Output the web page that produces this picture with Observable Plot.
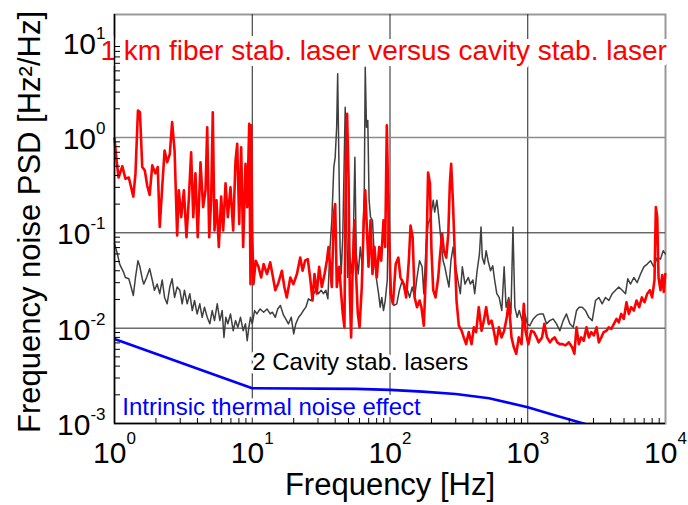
<!DOCTYPE html>
<html>
<head>
<meta charset="utf-8">
<script src="https://cdn.jsdelivr.net/npm/d3@7"></script>
<script src="https://cdn.jsdelivr.net/npm/@observablehq/plot@0.6"></script>
<style>
  html, body { margin: 0; padding: 0; background: #fff; }
  #chart svg { display: block; }
</style>
</head>
<body>
<div id="chart"></div>
<script>
// ---- Data ----
// Red: 1 km fiber stabilised laser versus cavity stabilised laser
const redFreq = [
  1.00,1.03,1.07,1.14,1.20,1.27,1.37,1.42,1.48,1.53,
  1.59,1.66,1.73,1.80,1.88,1.98,2.06,2.13,2.22,2.31,
  2.41,2.52,2.62,2.73,2.85,2.93,3.05,3.19,3.33,3.46,
  3.60,3.73,3.87,4.02,4.21,4.40,4.58,4.71,4.87,5.03,
  5.17,5.32,5.50,5.72,5.95,6.15,6.40,6.65,6.95,7.27,
  7.56,7.78,8.04,8.31,8.59,8.93,9.19,9.51,9.71,9.82,
  10.0,10.2,10.6,11.1,11.6,12.1,12.8,13.5,14.0,14.7,
  15.5,16.4,17.1,17.8,18.9,19.9,21.1,22.3,23.2,24.2,
  25.3,26.3,27.4,28.3,29.4,30.6,32.0,33.5,34.8,35.8,
  36.8,37.8,39.1,40.0,41.1,42.8,44.2,45.4,46.7,47.8,
  48.8,50.0,51.1,52.2,53.4,55.2,56.4,58.4,60.1,62.4,
  64.5,66.1,67.9,69.8,72.2,74.6,77.2,80.2,83.5,86.3,
  89.7,92.3,94.8,97.5,100,101,105,110,115,119,
  126,131,137,141,146,151,157,164,169,176,
  183,189,195,200,206,214,224,230,239,246,
  256,265,272,278,286,296,304,316,331,343,
  357,373,391,406,422,441,462,480,499,521,
  546,567,590,617,645,674,705,728,762,792,
  825,861,901,936,963,1010,1060,1110,1160,1200,
  1270,1320,1380,1450,1510,1570,1640,1710,1790,1880,
  1990,2100,2180,2260,2350,2440,2550,2670,2780,2890,
  3020,3160,3280,3420,3560,3730,3880,4040,4220,4410,
  4580,4770,4980,5210,5420,5640,5890,6160,6450,6740,
  7040,7370,7700,8000,8320,8510,8710,8900,9200,9460,
  9720,9960
];
const redPsd = [
  0.98,0.62,0.38,0.50,0.37,0.38,0.24,0.42,1.92,1.84,
  0.49,0.45,0.31,0.25,0.51,0.42,0.49,0.115,0.30,0.73,
  0.55,0.67,1.45,0.73,0.094,0.28,0.146,0.28,0.090,0.22,
  0.70,0.146,0.42,0.090,0.55,0.186,0.28,1.28,0.090,0.22,
  1.84,0.106,0.22,0.071,0.24,0.106,0.33,0.146,0.30,0.106,
  0.57,0.86,0.124,0.79,0.071,0.53,0.186,1.39,0.029,1.34,
  0.098,0.029,0.051,0.044,0.034,0.047,0.037,0.049,0.037,0.025,
  0.030,0.040,0.027,0.021,0.034,0.029,0.037,0.055,0.040,0.051,
  0.053,0.034,0.0195,0.037,0.023,0.044,0.027,0.037,0.051,0.071,
  0.044,0.027,0.158,0.20,0.027,0.044,0.023,0.0141,0.0102,0.57,
  1.77,0.38,0.023,0.0080,0.034,0.135,0.044,0.0141,0.0102,0.027,
  0.135,0.28,0.115,0.044,0.135,0.037,0.071,0.034,0.071,0.051,
  0.135,0.071,1.34,0.171,0.044,0.023,0.018,0.047,0.055,0.034,
  0.029,0.021,0.051,0.119,0.090,0.021,0.0166,0.0195,0.0166,0.0106,
  0.044,0.43,0.33,0.065,0.025,0.021,0.034,0.055,0.098,0.065,
  0.055,0.098,0.33,0.53,0.22,0.055,0.0195,0.0106,0.0094,0.0080,
  0.0068,0.0091,0.0068,0.0102,0.0091,0.0166,0.0094,0.0120,0.0166,0.0111,
  0.0120,0.0094,0.0068,0.0102,0.0080,0.0094,0.0130,0.0195,0.0080,0.0063,
  0.0054,0.0080,0.0068,0.018,0.0094,0.0068,0.0094,0.0091,0.0080,0.0071,
  0.0080,0.0111,0.0080,0.0071,0.0077,0.0080,0.0071,0.0068,0.0068,0.0066,
  0.0071,0.0063,0.0054,0.0102,0.0068,0.0080,0.0074,0.0102,0.0080,0.0091,
  0.0084,0.0102,0.0071,0.0080,0.0091,0.0094,0.0102,0.0098,0.0111,0.0125,
  0.0115,0.0141,0.0125,0.0187,0.0141,0.0166,0.0153,0.0195,0.0166,0.021,
  0.0187,0.023,0.025,0.021,0.032,0.186,0.146,0.034,0.025,0.036,
  0.024,0.037
];

// Dark grey: 2 cavity stabilised lasers
const grayFreq = [
  1.00,1.05,1.09,1.16,1.20,1.27,1.32,1.37,1.42,1.48,
  1.53,1.59,1.63,1.71,1.80,1.88,1.95,2.04,2.13,2.22,
  2.31,2.41,2.52,2.62,2.73,2.85,2.98,3.10,3.22,3.37,
  3.52,3.67,3.81,3.98,4.16,4.33,4.50,4.71,4.92,5.12,
  5.32,5.57,5.82,6.05,6.23,6.43,6.65,6.95,7.27,7.56,
  7.86,8.22,8.59,8.93,9.19,9.45,9.71,10.0,10.4,10.8,
  11.4,12.1,12.8,13.5,14.0,14.7,15.3,16.0,16.9,17.5,
  18.3,19.2,20.0,20.7,21.7,22.7,23.5,24.5,25.6,26.7,
  27.9,29.0,30.3,31.6,32.9,34.2,35.4,36.6,37.8,39.1,
  40.0,41.0,41.7,42.5,43.4,44.2,45.4,47.3,48.3,49.3,
  50.6,52.2,53.9,55.6,56.9,58.8,60.9,63.0,65.1,66.1,
  67.5,69.0,70.5,72.2,74.6,77.2,79.9,82.6,84.9,87.2,
  89.7,92.3,95.6,97.5,100,103,107,112,117,123,
  128,134,139,145,151,157,164,171,176,183,
  189,197,206,211,219,226,232,243,250,259,
  268,277,287,298,311,324,335,350,370,383,
  400,412,429,446,458,468,484,499,515,537,
  557,575,596,620,648,674,696,728,755,781,
  806,838,868,910,956,993,1035,1096,1160,1225,
  1295,1368,1445,1530,1617,1710,1808,1910,2020,2137,
  2260,2362,2483,2624,2774,2937,3104,3280,3470,3667,
  3880,4103,4336,4581,4850,5127,5325,5570,5890,6223,
  6590,6964,7370,7780,8225,8710,9200,9620,9960
];
const grayPsd = [
  0.077,0.060,0.047,0.039,0.034,0.033,0.027,0.022,0.034,0.051,
  0.044,0.033,0.029,0.034,0.042,0.032,0.025,0.029,0.023,0.032,
  0.021,0.018,0.027,0.033,0.021,0.027,0.025,0.018,0.025,0.018,
  0.023,0.0153,0.0195,0.0141,0.018,0.0130,0.0166,0.0130,0.0111,0.0153,
  0.0120,0.018,0.0120,0.0153,0.0080,0.0130,0.0111,0.0141,0.0094,0.0120,
  0.0102,0.0130,0.0094,0.0111,0.0074,0.0102,0.0130,0.0111,0.0153,0.0141,
  0.0159,0.0147,0.0159,0.0141,0.0147,0.0130,0.0159,0.0173,0.0136,0.0125,
  0.0111,0.0130,0.0087,0.0111,0.0130,0.0141,0.0153,0.0166,0.0203,0.0195,
  0.023,0.025,0.023,0.025,0.023,0.025,0.0203,0.065,0.135,0.49,
  0.62,1.28,4.66,0.67,0.071,0.037,0.090,2.08,0.171,0.034,
  0.071,0.037,0.060,0.62,0.060,0.037,0.071,0.044,0.30,5.47,
  1.28,1.51,0.22,0.146,0.135,0.051,0.032,0.023,0.0166,0.021,
  0.0153,0.0195,0.032,0.26,0.044,0.0195,0.0173,0.018,0.025,0.032,
  0.025,0.025,0.021,0.027,0.021,0.034,0.051,0.044,0.023,0.077,
  0.124,0.146,0.22,0.165,0.22,0.146,0.098,0.051,0.044,0.034,
  0.027,0.051,0.071,0.047,0.032,0.023,0.044,0.029,0.034,0.029,
  0.032,0.023,0.040,0.060,0.115,0.055,0.047,0.065,0.051,0.040,
  0.045,0.032,0.023,0.021,0.0153,0.044,0.0166,0.021,0.0141,0.115,
  0.0166,0.0130,0.0153,0.0120,0.0141,0.0111,0.0106,0.0125,0.0136,0.0141,
  0.0141,0.0111,0.0120,0.0125,0.0111,0.0094,0.0120,0.0141,0.0111,0.0102,
  0.0153,0.0166,0.0166,0.0153,0.0130,0.0120,0.0195,0.021,0.018,0.021,
  0.0195,0.023,0.025,0.027,0.025,0.023,0.033,0.029,0.034,0.030,
  0.037,0.044,0.047,0.051,0.044,0.055,0.053,0.065,0.060
];

// Blue: intrinsic thermal noise effect
const blueFreq = [1, 10, 56.6, 100, 172, 300, 524, 1000, 1590, 2614];
const bluePsd  = [0.0077, 0.00234, 0.00231, 0.00225, 0.00216, 0.00204, 0.00184, 0.00148, 0.00121, 0.00099];

// Axis ticks
const xTicks = [1, 10, 100, 1000, 10000];
const xTickExp = ["0", "1", "2", "3", "4"];
const yTicks = [0.001, 0.01, 0.1, 1, 10];
const yTickExp = ["-3", "-2", "-1", "0", "1"];
const xMinor = [2,3,4,5,6,7,8,9, 20,30,40,50,60,70,80,90, 200,300,400,500,600,700,800,900, 2000,3000,4000,5000,6000,7000,8000,9000];
const yMinor = [0.002,0.003,0.004,0.005,0.006,0.007,0.008,0.009, 0.02,0.03,0.04,0.05,0.06,0.07,0.08,0.09, 0.2,0.3,0.4,0.5,0.6,0.7,0.8,0.9, 2,3,4,5,6,7,8,9];

// Text annotations
const annText  = ["1 km fiber stab. laser versus cavity stab. laser", "2 Cavity stab. lasers", "Intrinsic thermal noise effect"];
const annFreq  = [1, 10, 1.14];
const annPsd   = [7.98, 0.0044, 0.00149];
const annColor = ["#ff0000", "#000000", "#0000ff"];

// ---- Build tables ----
const red = redFreq.map((f, i) => ({f, p: redPsd[i]}));
const gray = grayFreq.map((f, i) => ({f, p: grayPsd[i]}));
const blue = blueFreq.map((f, i) => ({f, p: bluePsd[i]}));
const titleAnn = [{t: annText[0], f: annFreq[0], p: annPsd[0], c: annColor[0]}];
const otherAnn = [1, 2].map(i => ({t: annText[i], f: annFreq[i], p: annPsd[i], c: annColor[i]}));

const font = "'Liberation Sans', Arial, Helvetica, sans-serif";

const plot = Plot.plot({
  width: 688,
  height: 505,
  marginLeft: 114,
  marginRight: 23,
  marginTop: 14,
  marginBottom: 82,
  style: {fontFamily: font, background: "#fff", color: "#000"},
  x: {type: "log", domain: [1, 10000]},
  y: {type: "log", domain: [0.001, 19.5]},
  marks: [
    Plot.frame({stroke: "#999", strokeWidth: 2}),
    Plot.gridX([10, 100, 1000], {stroke: "#222", strokeOpacity: 1, strokeWidth: 1}),
    Plot.gridY([0.01, 0.1], {stroke: "#222", strokeOpacity: 1, strokeWidth: 1}),
    Plot.gridY([1], {stroke: "#8c8c8c", strokeOpacity: 1, strokeWidth: 1.5}),
    Plot.line(gray, {x: "f", y: "p", stroke: "#3f3f3f", strokeWidth: 1.5, strokeLinejoin: "round"}),
    Plot.line(red, {x: "f", y: "p", stroke: "#ff0000", strokeWidth: 2.6, strokeLinejoin: "round"}),
    Plot.text(titleAnn, {x: "f", y: "p", text: "t", fill: "c", textAnchor: "start", lineAnchor: "middle", dx: -14,
      fontSize: 28, stroke: "white", strokeWidth: 12}),
    Plot.text(otherAnn, {x: "f", y: "p", text: "t", fill: "c", textAnchor: "start", lineAnchor: "middle",
      fontSize: 24, stroke: "white", strokeWidth: 7}),
    Plot.line(blue, {x: "f", y: "p", stroke: "#0000ff", strokeWidth: 2.6, clip: true}),
    Plot.ruleX([1], {stroke: "#000", strokeWidth: 1.5}),
    Plot.ruleY([0.001], {stroke: "#000", strokeWidth: 1.5}),
    Plot.axisY(yMinor, {anchor: "left", tickSize: -6, tickFormat: () => "", label: null, stroke: "#000"}),
    Plot.axisX(xMinor, {anchor: "bottom", tickSize: -5, tickFormat: () => "", label: null, stroke: "#000"}),
    Plot.axisY(yTicks, {anchor: "left", tickSize: 0, tickPadding: 9, fontSize: 30, dy: 2,
      tickFormat: d => "10^" + yTickExp[yTicks.indexOf(d)], label: null}),
    Plot.axisX(xTicks, {anchor: "bottom", tickSize: 0, tickPadding: 18, fontSize: 30,
      tickFormat: d => "10^" + xTickExp[xTicks.indexOf(d)], label: null}),
    Plot.text(["Frequency [Hz]"], {frameAnchor: "bottom", lineAnchor: "middle", textAnchor: "middle", dy: 62, fontSize: 31, fill: "#000"}),
    Plot.text(["Frequency noise PSD [Hz²/Hz]"], {frameAnchor: "left", lineAnchor: "middle", textAnchor: "middle", dx: -84, dy: 3, rotate: -90, fontSize: 31, fill: "#000"})
  ]
});

document.getElementById("chart").appendChild(plot);

// Superscript exponents on the decade tick labels
function supify(selector, shift, size) {
  d3.select(plot).selectAll(selector).each(function () {
    const t = this.textContent;
    if (!t.includes("^")) return;
    const [base, exp] = t.split("^");
    const sel = d3.select(this);
    sel.text(base);
    sel.append("tspan").attr("dy", shift).attr("font-size", size).text(exp);
  });
}
supify('g[aria-label="y-axis tick label"] text', -15, 17);
supify('g[aria-label="x-axis tick label"] text', -19, 17);
</script>
</body>
</html>
